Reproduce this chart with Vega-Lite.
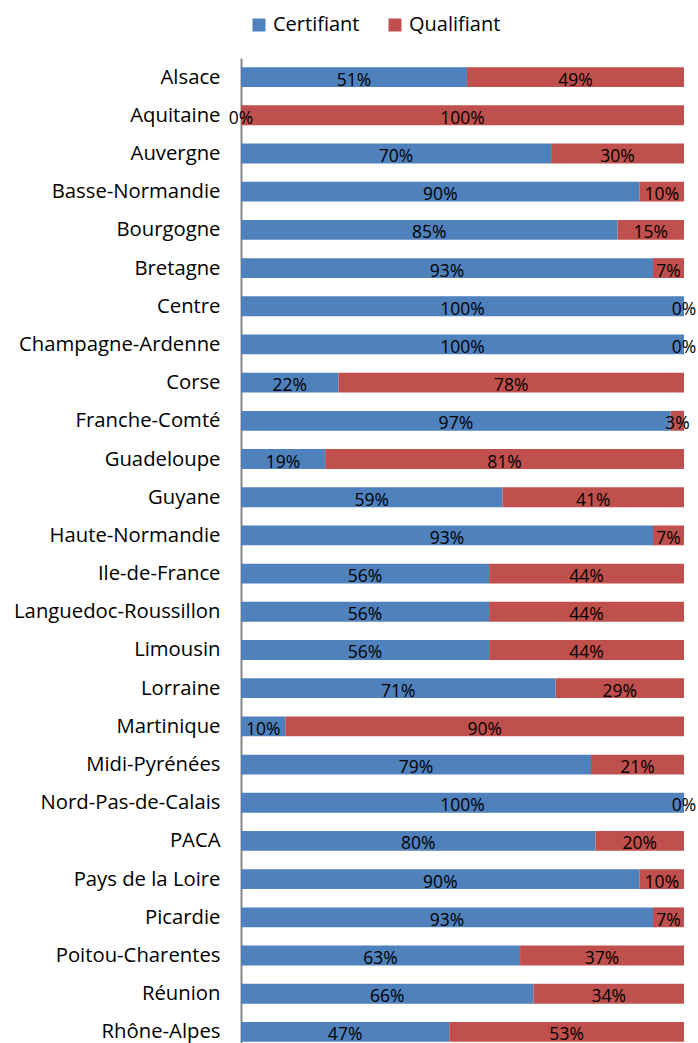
{
  "$schema": "https://vega.github.io/schema/vega-lite/v6.json",
  "width": 443,
  "height": 993,
  "autosize": {"type": "none"},
  "padding": {"left": 241, "top": 58, "right": 14, "bottom": -8},
  "background": "white",
  "config": {"view": {"stroke": null}, "font": "Open Sans"},
  "data": {
    "values": [
      {"region": "Alsace", "type": "Certifiant", "share": 0.51},
      {"region": "Alsace", "type": "Qualifiant", "share": 0.49},
      {"region": "Aquitaine", "type": "Certifiant", "share": 0},
      {"region": "Aquitaine", "type": "Qualifiant", "share": 1},
      {"region": "Auvergne", "type": "Certifiant", "share": 0.70},
      {"region": "Auvergne", "type": "Qualifiant", "share": 0.30},
      {"region": "Basse-Normandie", "type": "Certifiant", "share": 0.90},
      {"region": "Basse-Normandie", "type": "Qualifiant", "share": 0.10},
      {"region": "Bourgogne", "type": "Certifiant", "share": 0.85},
      {"region": "Bourgogne", "type": "Qualifiant", "share": 0.15},
      {"region": "Bretagne", "type": "Certifiant", "share": 0.93},
      {"region": "Bretagne", "type": "Qualifiant", "share": 0.07},
      {"region": "Centre", "type": "Certifiant", "share": 1},
      {"region": "Centre", "type": "Qualifiant", "share": 0},
      {"region": "Champagne-Ardenne", "type": "Certifiant", "share": 1},
      {"region": "Champagne-Ardenne", "type": "Qualifiant", "share": 0},
      {"region": "Corse", "type": "Certifiant", "share": 0.22},
      {"region": "Corse", "type": "Qualifiant", "share": 0.78},
      {"region": "Franche-Comté", "type": "Certifiant", "share": 0.97},
      {"region": "Franche-Comté", "type": "Qualifiant", "share": 0.03},
      {"region": "Guadeloupe", "type": "Certifiant", "share": 0.19},
      {"region": "Guadeloupe", "type": "Qualifiant", "share": 0.81},
      {"region": "Guyane", "type": "Certifiant", "share": 0.59},
      {"region": "Guyane", "type": "Qualifiant", "share": 0.41},
      {"region": "Haute-Normandie", "type": "Certifiant", "share": 0.93},
      {"region": "Haute-Normandie", "type": "Qualifiant", "share": 0.07},
      {"region": "Ile-de-France", "type": "Certifiant", "share": 0.56},
      {"region": "Ile-de-France", "type": "Qualifiant", "share": 0.44},
      {"region": "Languedoc-Roussillon", "type": "Certifiant", "share": 0.56},
      {"region": "Languedoc-Roussillon", "type": "Qualifiant", "share": 0.44},
      {"region": "Limousin", "type": "Certifiant", "share": 0.56},
      {"region": "Limousin", "type": "Qualifiant", "share": 0.44},
      {"region": "Lorraine", "type": "Certifiant", "share": 0.71},
      {"region": "Lorraine", "type": "Qualifiant", "share": 0.29},
      {"region": "Martinique", "type": "Certifiant", "share": 0.10},
      {"region": "Martinique", "type": "Qualifiant", "share": 0.90},
      {"region": "Midi-Pyrénées", "type": "Certifiant", "share": 0.79},
      {"region": "Midi-Pyrénées", "type": "Qualifiant", "share": 0.21},
      {"region": "Nord-Pas-de-Calais", "type": "Certifiant", "share": 1},
      {"region": "Nord-Pas-de-Calais", "type": "Qualifiant", "share": 0},
      {"region": "PACA", "type": "Certifiant", "share": 0.80},
      {"region": "PACA", "type": "Qualifiant", "share": 0.20},
      {"region": "Pays de la Loire", "type": "Certifiant", "share": 0.90},
      {"region": "Pays de la Loire", "type": "Qualifiant", "share": 0.10},
      {"region": "Picardie", "type": "Certifiant", "share": 0.93},
      {"region": "Picardie", "type": "Qualifiant", "share": 0.07},
      {"region": "Poitou-Charentes", "type": "Certifiant", "share": 0.63},
      {"region": "Poitou-Charentes", "type": "Qualifiant", "share": 0.37},
      {"region": "Réunion", "type": "Certifiant", "share": 0.66},
      {"region": "Réunion", "type": "Qualifiant", "share": 0.34},
      {"region": "Rhône-Alpes", "type": "Certifiant", "share": 0.47},
      {"region": "Rhône-Alpes", "type": "Qualifiant", "share": 0.53}
    ]
  },
  "encoding": {
    "y": {
      "field": "region",
      "type": "nominal",
      "sort": null,
      "scale": {"paddingInner": 0.48, "paddingOuter": 0.24},
      "axis": {
        "title": null,
        "ticks": false,
        "labelFontSize": 20.3,
        "labelPadding": 21,
        "labelOffset": 0.5,
        "labelColor": "#000000",
        "labelLimit": 300,
        "domainColor": "#868686",
        "domainWidth": 2
      }
    }
  },
  "layer": [
    {
      "mark": {"type": "bar"},
      "encoding": {
        "x": {
          "field": "share",
          "type": "quantitative",
          "stack": "zero",
          "scale": {"domain": [0, 1], "nice": false},
          "axis": null
        },
        "order": {"field": "type", "sort": "ascending"},
        "color": {
          "field": "type",
          "type": "nominal",
          "scale": {"domain": ["Certifiant", "Qualifiant"], "range": ["#4F81BD", "#C0504D"]},
          "legend": {
            "orient": "none",
            "legendX": 8,
            "legendY": -43,
            "direction": "horizontal",
            "title": null,
            "symbolType": "square",
            "symbolSize": 169,
            "symbolStrokeWidth": 0,
            "labelFontSize": 20,
            "labelColor": "#000000",
            "labelOffset": 4,
            "columnPadding": 25
          }
        }
      }
    },
    {
      "mark": {"type": "text", "fontSize": 17.5, "dy": 3.5, "color": "#000000"},
      "encoding": {
        "x": {"field": "share", "type": "quantitative", "stack": "zero", "bandPosition": 0.5},
        "order": {"field": "type", "sort": "ascending"},
        "detail": {"field": "type"},
        "text": {"field": "share", "type": "quantitative", "format": ".0%"}
      }
    }
  ]
}
